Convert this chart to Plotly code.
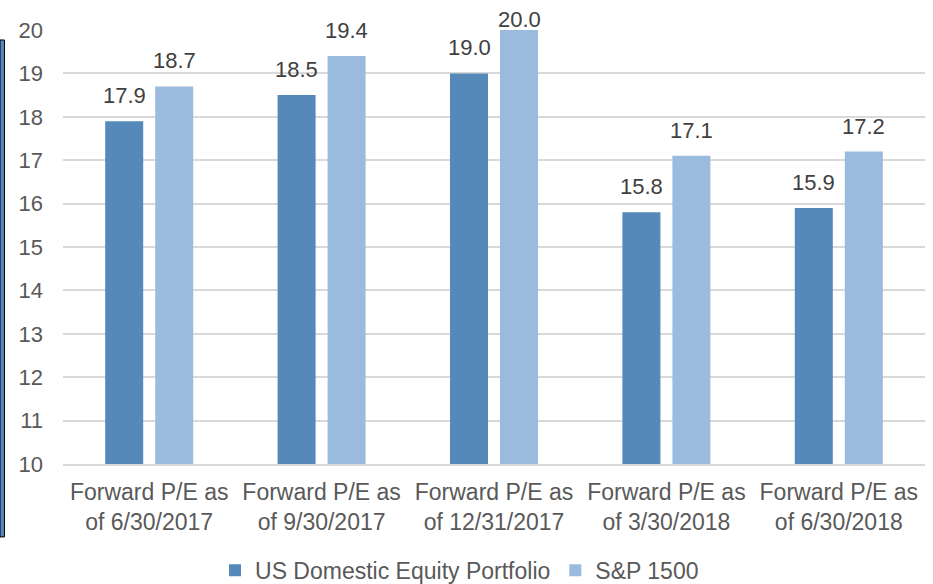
import plotly.graph_objects as go

categories = ["Forward P/E as<br>of 6/30/2017", "Forward P/E as<br>of 9/30/2017",
              "Forward P/E as<br>of 12/31/2017", "Forward P/E as<br>of 3/30/2018",
              "Forward P/E as<br>of 6/30/2018"]
portfolio = [17.9, 18.5, 19.0, 15.8, 15.9]
sp1500 = [18.7, 19.4, 20.0, 17.1, 17.2]
tick_vals = list(range(10, 21))
y_max = 20

font_col = "#595959"
fnt = "Liberation Sans, Arial, sans-serif"

fig = go.Figure()
fig.add_trace(go.Bar(x=categories, y=portfolio, name="US Domestic Equity Portfolio",
                     marker_color="#5589BA", marker_line_width=0))
fig.add_trace(go.Bar(x=categories, y=sp1500, name="S&P 1500",
                     marker_color="#9BBBDE", marker_line_width=0))

# value labels, sitting a bit higher above the bars than plotly's own outside text
# (the one at the very top is pulled down so it stays on the page)
for vals, shift in [(portfolio, -25), (sp1500, 25)]:
    for c, v in zip(categories, vals):
        fig.add_annotation(x=c, y=v, text=f"{v:.1f}", showarrow=False, xshift=shift,
                           yshift=11 if v < y_max else -4, yanchor="bottom",
                           font=dict(size=22, color="#404040", family=fnt))

fig.update_layout(
    width=933, height=584,
    margin=dict(l=63, r=8, t=30, b=120, autoexpand=False),
    plot_bgcolor="white", paper_bgcolor="white",
    barmode="group", bargap=0.42, bargroupgap=0.24,
    font=dict(family=fnt, size=22, color=font_col),
    legend=dict(orientation="h", x=0.46, xanchor="center", y=-0.245, yanchor="middle",
                font=dict(size=23, color=font_col)),
    showlegend=True,
)
fig.update_yaxes(range=[10, y_max], tickvals=tick_vals, showgrid=True, gridcolor="#D9D9D9",
                 gridwidth=1.5, zeroline=False, ticks="", automargin=False,
                 tickfont=dict(size=22, color=font_col), ticklabelstandoff=19)
fig.update_xaxes(showline=True, linecolor="#D9D9D9", linewidth=1.5, ticks="", automargin=False,
                 tickfont=dict(size=23, color=font_col), ticklabelstandoff=7)

# stray edge strip seen at the left of the picture
fig.add_shape(type="rect", xref="paper", yref="paper", x0=-0.0731, x1=-0.0679,
              y0=-0.168, y1=0.977, fillcolor="#5589BA", line=dict(color="black", width=1))

# drop the browser's default 8px body margin so the figure sits at the window corner
fig.write_html("out.html", config={"displayModeBar": False},
               post_script="document.body.style.margin='0px';")
